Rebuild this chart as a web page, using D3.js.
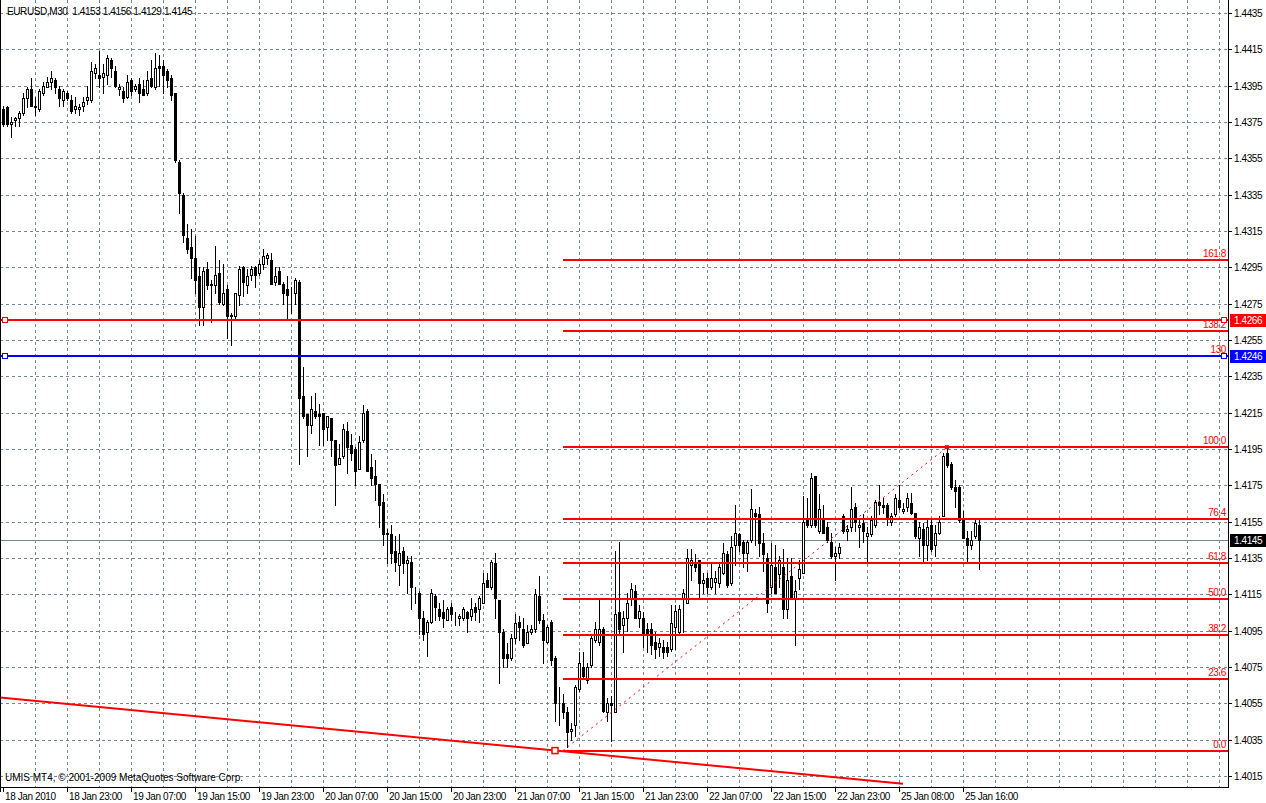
<!DOCTYPE html>
<html>
<head>
<meta charset="utf-8">
<script src="https://cdn.jsdelivr.net/npm/d3@7"></script>
<style>
    html, body { margin: 0; padding: 0; background: #fff; }
    svg { display: block; font-family: "Liberation Sans", Arial, sans-serif; }
    .num { font-size: 10px; letter-spacing: -0.4px; }
</style>
</head>
<body>
<svg id="chart" width="1266" height="803"></svg>
<script>
/*
 * EURUSD M30 chart data
 * */
var symbolTitle = 'EURUSD,M30  1.4153 1.4156 1.4129 1.4145',
    copyrightText = 'UMIS MT4, \u00a9 2001-2009 MetaQuotes Software Corp.';

var open = [
    1.4382,1.4383,1.4374,1.4376,1.4377,1.4380,1.4388,1.4393,1.4384,1.4382,
    1.4391,1.4394,1.4397,1.4398,1.4393,1.4387,1.4391,1.4387,1.4382,1.4382,
    1.4384,1.4387,1.4387,1.4402,1.4401,1.4400,1.4401,1.4409,1.4403,1.4393,
    1.4392,1.4389,1.4398,1.4393,1.4396,1.4393,1.4391,1.4399,1.4394,1.4406,
    1.4406,1.4403,1.4399,1.4391,1.4353,1.4335,1.4311,1.4306,1.4300,1.4290,
    1.4273,1.4294,1.4286,1.4285,1.4292,1.4275,1.4283,1.4269,1.4268,1.4280,
    1.4295,1.4285,1.4291,1.4295,1.4292,1.4297,1.4300,1.4299,1.4287,1.4293,
    1.4286,1.4283,1.4282,1.4281,1.4287,1.4224,1.4214,1.4208,1.4216,1.4214,
    1.4215,1.4207,1.4212,1.4200,1.4187,1.4191,1.4205,1.4197,1.4195,1.4184,
    1.4200,1.4216,1.4185,1.4180,1.4176,1.4166,1.4148,1.4148,1.4139,1.4131,
    1.4139,1.4132,1.4133,1.4117,1.4116,1.4102,1.4094,1.4100,1.4114,1.4107,
    1.4105,1.4101,1.4108,1.4104,1.4102,1.4102,1.4105,1.4103,1.4108,1.4107,
    1.4110,1.4123,1.4119,1.4132,1.4112,1.4094,1.4082,1.4080,1.4091,1.4100,
    1.4096,1.4088,1.4094,1.4096,1.4114,1.4101,1.4089,1.4100,1.4080,1.4056,
    1.4055,1.4050,1.4040,1.4043,1.4063,1.4075,1.4068,1.4076,1.4090,1.4089,
    1.4096,1.4050,1.4055,1.4050,1.4105,1.4098,1.4102,1.4113,1.4117,1.4102,
    1.4102,1.4096,1.4096,1.4089,1.4086,1.4086,1.4086,1.4085,1.4097,1.4094,
    1.4113,1.4110,1.4131,1.4133,1.4134,1.4121,1.4124,1.4119,1.4122,1.4121,
    1.4127,1.4137,1.4121,1.4142,1.4148,1.4144,1.4138,1.4145,1.4160,1.4159,
    1.4143,1.4135,1.4119,1.4130,1.4126,1.4130,1.4107,1.4125,1.4113,1.4124,
    1.4127,1.4157,1.4153,1.4180,1.4150,1.4157,1.4152,1.4144,1.4136,1.4138,
    1.4158,1.4150,1.4152,1.4163,1.4152,1.4154,1.4147,1.4148,1.4153,1.4166,
    1.4164,1.4164,1.4155,1.4159,1.4167,1.4161,1.4163,1.4165,1.4160,1.4146,
    1.4151,1.4142,1.4153,1.4142,1.4149,1.4158,1.4193,1.4187,1.4174,1.4174,
    1.4156,1.4146,1.4142,1.4147,1.4153
];
var high = [
    1.4384,1.4384,1.4378,1.4378,1.4381,1.4391,1.4394,1.4399,1.4389,1.4393,
    1.4397,1.4400,1.4403,1.4399,1.4395,1.4393,1.4392,1.4390,1.4389,1.4385,
    1.4389,1.4395,1.4408,1.4407,1.4414,1.4407,1.4412,1.4410,1.4406,1.4396,
    1.4394,1.4401,1.4399,1.4396,1.4399,1.4398,1.4403,1.4409,1.4413,1.4412,
    1.4409,1.4404,1.4401,1.4391,1.4354,1.4336,1.4319,1.4316,1.4312,1.4295,
    1.4295,1.4298,1.4288,1.4307,1.4299,1.4297,1.4285,1.4270,1.4281,1.4296,
    1.4296,1.4294,1.4296,1.4296,1.4299,1.4305,1.4303,1.4303,1.4295,1.4295,
    1.4287,1.4290,1.4284,1.4289,1.4288,1.4240,1.4214,1.4224,1.4226,1.4220,
    1.4215,1.4213,1.4212,1.4200,1.4198,1.4209,1.4210,1.4203,1.4196,1.4202,
    1.4219,1.4217,1.4192,1.4189,1.4176,1.4170,1.4151,1.4153,1.4147,1.4148,
    1.4141,1.4136,1.4136,1.4119,1.4117,1.4106,1.4101,1.4118,1.4115,1.4110,
    1.4112,1.4108,1.4110,1.4105,1.4104,1.4108,1.4106,1.4113,1.4110,1.4114,
    1.4127,1.4127,1.4134,1.4138,1.4112,1.4096,1.4088,1.4093,1.4104,1.4103,
    1.4102,1.4098,1.4098,1.4118,1.4125,1.4104,1.4098,1.4101,1.4081,1.4064,
    1.4060,1.4053,1.4044,1.4065,1.4083,1.4083,1.4077,1.4093,1.4100,1.4112,
    1.4097,1.4058,1.4059,1.4139,1.4144,1.4106,1.4116,1.4121,1.4120,1.4109,
    1.4105,1.4099,1.4099,1.4094,1.4091,1.4090,1.4089,1.4109,1.4109,1.4109,
    1.4118,1.4140,1.4140,1.4137,1.4134,1.4127,1.4127,1.4132,1.4128,1.4132,
    1.4143,1.4139,1.4147,1.4164,1.4149,1.4145,1.4145,1.4173,1.4162,1.4163,
    1.4149,1.4138,1.4143,1.4142,1.4136,1.4140,1.4135,1.4135,1.4123,1.4134,
    1.4169,1.4168,1.4182,1.4180,1.4170,1.4164,1.4155,1.4149,1.4141,1.4143,
    1.4159,1.4153,1.4174,1.4165,1.4157,1.4159,1.4152,1.4158,1.4167,1.4175,
    1.4168,1.4165,1.4160,1.4170,1.4175,1.4165,1.4171,1.4171,1.4160,1.4155,
    1.4154,1.4156,1.4156,1.4153,1.4158,1.4193,1.4196,1.4188,1.4178,1.4175,
    1.4161,1.4150,1.4150,1.4157,1.4156
];
var low = [
    1.4373,1.4373,1.4367,1.4373,1.4373,1.4379,1.4383,1.4384,1.4379,1.4381,
    1.4390,1.4394,1.4393,1.4391,1.4384,1.4384,1.4387,1.4380,1.4380,1.4379,
    1.4381,1.4385,1.4386,1.4399,1.4394,1.4391,1.4396,1.4400,1.4394,1.4390,
    1.4386,1.4388,1.4390,1.4392,1.4386,1.4390,1.4390,1.4394,1.4393,1.4395,
    1.4391,1.4394,1.4387,1.4353,1.4325,1.4309,1.4303,1.4289,1.4281,1.4263,
    1.4263,1.4283,1.4265,1.4281,1.4275,1.4274,1.4256,1.4252,1.4266,1.4274,
    1.4279,1.4281,1.4288,1.4284,1.4291,1.4294,1.4297,1.4286,1.4285,1.4286,
    1.4275,1.4266,1.4270,1.4275,1.4187,1.4212,1.4191,1.4204,1.4212,1.4197,
    1.4197,1.4200,1.4191,1.4164,1.4187,1.4190,1.4182,1.4189,1.4175,1.4184,
    1.4199,1.4183,1.4175,1.4167,1.4152,1.4142,1.4132,1.4132,1.4128,1.4120,
    1.4127,1.4116,1.4107,1.4110,1.4093,1.4090,1.4081,1.4099,1.4101,1.4101,
    1.4097,1.4101,1.4101,1.4098,1.4098,1.4101,1.4094,1.4101,1.4101,1.4100,
    1.4110,1.4119,1.4118,1.4102,1.4066,1.4075,1.4075,1.4079,1.4088,1.4090,
    1.4086,1.4088,1.4093,1.4094,1.4099,1.4077,1.4088,1.4076,1.4045,1.4043,
    1.4047,1.4031,1.4035,1.4037,1.4062,1.4069,1.4066,1.4075,1.4089,1.4087,
    1.4050,1.4045,1.4034,1.4050,1.4093,1.4083,1.4095,1.4109,1.4102,1.4097,
    1.4086,1.4083,1.4082,1.4080,1.4081,1.4080,1.4081,1.4084,1.4085,1.4093,
    1.4094,1.4110,1.4123,1.4128,1.4113,1.4116,1.4116,1.4118,1.4116,1.4119,
    1.4126,1.4119,1.4120,1.4131,1.4139,1.4130,1.4128,1.4144,1.4142,1.4136,
    1.4128,1.4105,1.4116,1.4116,1.4119,1.4102,1.4102,1.4113,1.4087,1.4118,
    1.4127,1.4152,1.4152,1.4152,1.4149,1.4149,1.4144,1.4135,1.4123,1.4135,
    1.4149,1.4145,1.4150,1.4150,1.4141,1.4144,1.4133,1.4147,1.4152,1.4159,
    1.4160,1.4153,1.4153,1.4158,1.4162,1.4160,1.4161,1.4159,1.4146,1.4136,
    1.4132,1.4134,1.4139,1.4136,1.4148,1.4158,1.4185,1.4173,1.4163,1.4155,
    1.4146,1.4133,1.4140,1.4146,1.4129
];
var close = [
    1.4374,1.4374,1.4375,1.4377,1.4380,1.4388,1.4393,1.4384,1.4383,1.4392,
    1.4395,1.4397,1.4399,1.4394,1.4388,1.4392,1.4388,1.4381,1.4384,1.4383,
    1.4386,1.4389,1.4403,1.4405,1.4399,1.4402,1.4410,1.4405,1.4395,1.4394,
    1.4388,1.4397,1.4392,1.4395,1.4391,1.4390,1.4398,1.4395,1.4405,1.4405,
    1.4401,1.4398,1.4390,1.4354,1.4336,1.4313,1.4305,1.4300,1.4288,1.4273,
    1.4293,1.4285,1.4285,1.4291,1.4276,1.4281,1.4268,1.4268,1.4281,1.4294,
    1.4287,1.4290,1.4294,1.4291,1.4297,1.4301,1.4302,1.4286,1.4290,1.4286,
    1.4281,1.4280,1.4282,1.4288,1.4223,1.4213,1.4208,1.4217,1.4213,1.4213,
    1.4206,1.4213,1.4200,1.4186,1.4190,1.4206,1.4196,1.4193,1.4183,1.4199,
    1.4215,1.4183,1.4179,1.4176,1.4164,1.4148,1.4149,1.4138,1.4133,1.4138,
    1.4132,1.4134,1.4119,1.4117,1.4102,1.4093,1.4100,1.4116,1.4108,1.4103,
    1.4102,1.4107,1.4104,1.4104,1.4103,1.4107,1.4102,1.4107,1.4105,1.4113,
    1.4121,1.4119,1.4133,1.4113,1.4094,1.4080,1.4080,1.4091,1.4099,1.4097,
    1.4087,1.4094,1.4096,1.4115,1.4101,1.4090,1.4097,1.4079,1.4055,1.4056,
    1.4050,1.4039,1.4041,1.4064,1.4077,1.4070,1.4075,1.4091,1.4096,1.4096,
    1.4051,1.4055,1.4054,1.4104,1.4096,1.4102,1.4110,1.4118,1.4102,1.4106,
    1.4093,1.4093,1.4087,1.4085,1.4088,1.4083,1.4083,1.4099,1.4106,1.4107,
    1.4116,1.4135,1.4134,1.4130,1.4121,1.4123,1.4119,1.4124,1.4124,1.4130,
    1.4138,1.4120,1.4141,1.4149,1.4142,1.4138,1.4144,1.4162,1.4158,1.4143,
    1.4137,1.4110,1.4131,1.4116,1.4134,1.4107,1.4123,1.4113,1.4117,1.4129,
    1.4155,1.4153,1.4179,1.4153,1.4162,1.4149,1.4145,1.4136,1.4138,1.4141,
    1.4150,1.4151,1.4162,1.4155,1.4153,1.4150,1.4149,1.4156,1.4166,1.4164,
    1.4163,1.4157,1.4158,1.4168,1.4163,1.4162,1.4168,1.4160,1.4147,1.4152,
    1.4142,1.4152,1.4140,1.4149,1.4155,1.4191,1.4186,1.4174,1.4172,1.4156,
    1.4146,1.4142,1.4145,1.4154,1.4145
];

// time axis labels, one every 16 bars
var timeLabels = ['18 Jan 2010', '18 Jan 23:00', '19 Jan 07:00', '19 Jan 15:00',
    '19 Jan 23:00', '20 Jan 07:00', '20 Jan 15:00', '20 Jan 23:00', '21 Jan 07:00',
    '21 Jan 15:00', '21 Jan 23:00', '22 Jan 07:00', '22 Jan 15:00', '22 Jan 23:00',
    '25 Jan 08:00', '25 Jan 16:00'];

// price axis ticks
var priceTicks = [1.4015, 1.4035, 1.4055, 1.4075, 1.4095, 1.4115, 1.4135, 1.4155,
    1.4175, 1.4195, 1.4215, 1.4235, 1.4255, 1.4275, 1.4295, 1.4315, 1.4335, 1.4355,
    1.4375, 1.4395, 1.4415, 1.4435];

var bidPrice = 1.4145;

// horizontal line objects
var hlinePrices = [1.4266, 1.4246],
    hlineColours = ['#ff0000', '#0000ff'],
    hlineTexts = ['', '130'];

// fibonacci retracement (low bar -> high bar)
var fibBars = [140, 236],
    fibPrices = [1.4029, 1.4196],
    fibLevels = [0, 23.6, 38.2, 50.0, 61.8, 76.4, 100.0, 138.2, 161.8];

// trend line anchors and where it stops
var trendBars = [0, 138, 225],
    trendPrices = [1.4058, 1.4029];


/*
 * Layout
 * */
var plotRight = 1228,
    plotBottom = 787,
    red = '#ff0000',
    gridColour = '#778899';

var svg = d3.select('#chart');

var x = d3.scaleLinear().domain([-0.75, 306.25]).range([0, plotRight]);
var y = d3.scaleLinear().domain([1.4015, 1.4435]).range([776, 13]);

function px(v) { return Math.round(v) + 0.5; }

var bars = d3.range(open.length).map(function (i) {
    return { i: i, o: open[i], h: high[i], l: low[i], c: close[i] };
});

svg.append('clipPath').attr('id', 'plot-clip')
    .append('rect').attr('x', 0).attr('y', 0).attr('width', plotRight).attr('height', plotBottom);

var plot = svg.append('g').attr('clip-path', 'url(#plot-clip)');

/*
 * Grid
 * */
var grid = plot.append('g')
    .attr('stroke', gridColour)
    .attr('stroke-width', 1)
    .attr('stroke-dasharray', '3,3')
    .attr('shape-rendering', 'crispEdges');

grid.selectAll('line.h').data(priceTicks).enter().append('line')
    .attr('class', 'h')
    .attr('x1', 0).attr('x2', plotRight)
    .attr('y1', function (d) { return px(y(d)); })
    .attr('y2', function (d) { return px(y(d)); });

grid.selectAll('line.v').data(d3.range(8, 307, 8)).enter().append('line')
    .attr('class', 'v')
    .attr('y1', 0).attr('y2', plotBottom)
    .attr('x1', function (d) { return px(x(d)); })
    .attr('x2', function (d) { return px(x(d)); });

// bid line
plot.append('line')
    .attr('x1', 0).attr('x2', plotRight)
    .attr('y1', px(y(bidPrice))).attr('y2', px(y(bidPrice)))
    .attr('stroke', gridColour)
    .attr('shape-rendering', 'crispEdges');

/*
 * Candles
 * */
var candles = plot.append('g').attr('shape-rendering', 'crispEdges');

candles.selectAll('line.wick').data(bars).enter().append('line')
    .attr('class', 'wick')
    .attr('x1', function (d) { return px(x(d.i)); })
    .attr('x2', function (d) { return px(x(d.i)); })
    .attr('y1', function (d) { return Math.round(y(d.h)); })
    .attr('y2', function (d) { return Math.round(y(d.l)) + 1; })
    .attr('stroke', '#000');

candles.selectAll('rect.body').data(bars).enter().append('rect')
    .attr('class', 'body')
    .attr('x', function (d) { return Math.round(x(d.i)) - 1 + 0.5; })
    .attr('y', function (d) { return Math.round(y(Math.max(d.o, d.c))) + 0.5; })
    .attr('width', 2)
    .attr('height', function (d) {
        return Math.max(0, Math.round(y(Math.min(d.o, d.c))) - Math.round(y(Math.max(d.o, d.c))));
    })
    .attr('fill', function (d) { return d.c < d.o ? '#000' : '#fff'; })
    .attr('stroke', '#000');

/*
 * Objects: trend line, fibo, horizontal lines
 * */
var objects = plot.append('g');

// trend line, stops at its end bar
var slope = (trendPrices[1] - trendPrices[0]) / (trendBars[1] - trendBars[0]);
objects.append('line')
    .attr('x1', x(trendBars[0] - 1)).attr('y1', y(trendPrices[0] - slope))
    .attr('x2', x(trendBars[2])).attr('y2', y(trendPrices[0] + slope * (trendBars[2] - trendBars[0])))
    .attr('stroke', red)
    .attr('stroke-width', 2);

// fibo
var fibRange = fibPrices[1] - fibPrices[0];
var fib = objects.append('g');
fibLevels.forEach(function (lv) {
    var p = fibPrices[0] + fibRange * lv / 100,
        yy = Math.round(y(p));
    fib.append('line')
        .attr('x1', x(fibBars[0])).attr('x2', plotRight)
        .attr('y1', yy).attr('y2', yy)
        .attr('stroke', red).attr('stroke-width', 2)
        .attr('shape-rendering', 'crispEdges');
    fib.append('text')
        .attr('class', 'num')
        .attr('x', plotRight - 2).attr('y', yy - 3)
        .attr('text-anchor', 'end')
        .attr('fill', red)
        .text(d3.format('.1f')(lv));
});
fib.append('line')
    .attr('x1', x(fibBars[0])).attr('y1', y(fibPrices[0]))
    .attr('x2', x(fibBars[1])).attr('y2', y(fibPrices[1]))
    .attr('stroke', red).attr('stroke-width', 1)
    .attr('stroke-dasharray', '2,4');

// horizontal lines
hlinePrices.forEach(function (p, k) {
    var yy = Math.round(y(p));
    objects.append('line')
        .attr('x1', 0).attr('x2', plotRight)
        .attr('y1', yy).attr('y2', yy)
        .attr('stroke', hlineColours[k]).attr('stroke-width', 2)
        .attr('shape-rendering', 'crispEdges');
    [5, plotRight - 4].forEach(function (mx) {
        objects.append('rect')
            .attr('x', mx - 2.5).attr('y', yy - 2.5)
            .attr('width', 5).attr('height', 5)
            .attr('fill', '#fff')
            .attr('stroke', hlineColours[k]);
    });
    if (hlineTexts[k]) {
        objects.append('text')
            .attr('class', 'num')
            .attr('x', plotRight - 2).attr('y', yy - 3)
            .attr('text-anchor', 'end')
            .attr('fill', red)
            .text(hlineTexts[k]);
    }
});

// anchor markers
objects.append('rect')
    .attr('x', x(trendBars[1]) - 3).attr('y', y(trendPrices[1]) - 3)
    .attr('width', 6).attr('height', 6)
    .attr('fill', '#fff').attr('stroke', red).attr('stroke-width', 1.5);
objects.append('rect')
    .attr('x', x(fibBars[1]) - 2).attr('y', y(fibPrices[1]) - 2)
    .attr('width', 4).attr('height', 4)
    .attr('fill', red);

/*
 * Frame & axes
 * */
var frame = svg.append('g')
    .attr('stroke', '#000')
    .attr('shape-rendering', 'crispEdges');
frame.append('line').attr('x1', 0.5).attr('x2', 0.5).attr('y1', 0).attr('y2', plotBottom + 5);
frame.append('line').attr('x1', plotRight + 0.5).attr('x2', plotRight + 0.5).attr('y1', 0).attr('y2', plotBottom);
frame.append('line').attr('x1', 0).attr('x2', plotRight + 1).attr('y1', plotBottom + 0.5).attr('y2', plotBottom + 0.5);

// price axis
var pAxis = svg.append('g');
priceTicks.forEach(function (p) {
    var yy = Math.round(y(p));
    pAxis.append('line')
        .attr('x1', plotRight).attr('x2', plotRight + 4)
        .attr('y1', yy + 0.5).attr('y2', yy + 0.5)
        .attr('stroke', '#000').attr('shape-rendering', 'crispEdges');
    pAxis.append('text')
        .attr('class', 'num')
        .attr('x', plotRight + 6).attr('y', yy + 4)
        .attr('fill', '#000')
        .text(d3.format('.4f')(p));
});

// price boxes on the axis
function priceBox(p, bg) {
    var yy = Math.round(y(p));
    pAxis.append('rect')
        .attr('x', plotRight + 2).attr('y', yy - 6)
        .attr('width', 1266 - plotRight - 2).attr('height', 13)
        .attr('fill', bg);
    pAxis.append('text')
        .attr('class', 'num')
        .attr('x', plotRight + 6).attr('y', yy + 4)
        .attr('fill', '#fff')
        .text(d3.format('.4f')(p));
}
priceBox(bidPrice, '#000');
hlinePrices.forEach(function (p, k) { priceBox(p, hlineColours[k]); });

// time axis
var tAxis = svg.append('g');
timeLabels.forEach(function (lab, k) {
    var xx = Math.round(x(k * 16));
    tAxis.append('line')
        .attr('x1', xx + 0.5).attr('x2', xx + 0.5)
        .attr('y1', plotBottom).attr('y2', plotBottom + 5)
        .attr('stroke', '#000').attr('shape-rendering', 'crispEdges');
    tAxis.append('text')
        .attr('class', 'num')
        .attr('x', xx + 2).attr('y', 800)
        .attr('fill', '#000')
        .text(lab);
});

// captions
svg.append('text')
    .attr('class', 'num')
    .attr('x', 7).attr('y', 15)
    .attr('fill', '#000')
    .attr('xml:space', 'preserve')
    .text(symbolTitle);

svg.append('text')
    .attr('x', 5).attr('y', 781)
    .attr('font-size', '10px')
    .attr('fill', '#000')
    .text(copyrightText);
</script>
</body>
</html>
